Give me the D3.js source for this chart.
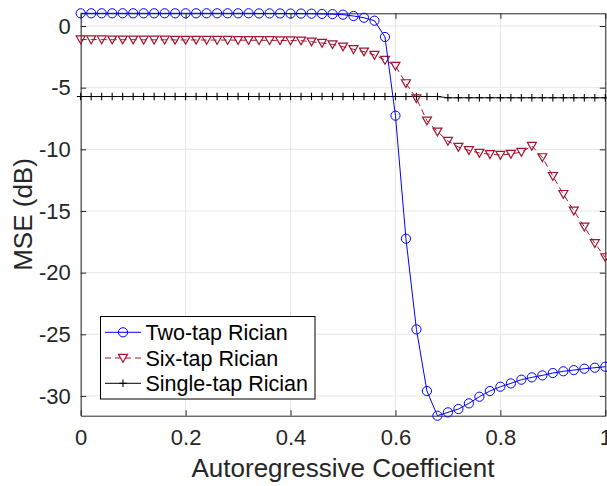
<!DOCTYPE html>
<html><head><meta charset="utf-8">
<script src="https://cdn.jsdelivr.net/npm/d3@7"></script>
<style>body{margin:0;background:#fff}svg{display:block;font-family:"Liberation Sans",Arial,sans-serif}</style>
</head><body><svg id="c" width="607" height="486"></svg>
<script>
const xVals = [0,0.02,0.04,0.06,0.08,0.10,0.12,0.14,0.16,0.18,0.20,0.22,0.24,0.26,0.28,0.30,0.32,0.34,0.36,0.38,0.40,0.42,0.44,0.46,0.48,0.50,0.52,0.54,0.56,0.58,0.60,0.62,0.64,0.66,0.68,0.70,0.72,0.74,0.76,0.78,0.80,0.82,0.84,0.86,0.88,0.90,0.92,0.94,0.96,0.98,1.00];
const twoTap = [1.03,1.03,1.03,1.03,1.03,1.03,1.03,1.03,1.03,1.03,1.03,1.03,1.03,1.03,1.03,1.03,1.03,
  1.02,1.02,1.02,1.01,1.01,1.0,0.98,0.96,0.92,0.81,0.67,0.43,
  -0.89,-7.27,-17.25,-24.6,-29.6,-31.6,-31.33,-31.06,-30.6,-30.06,-29.6,-29.25,-28.98,-28.68,-28.49,-28.33,-28.14,-28.0,-27.9,-27.79,-27.71,-27.63];
const sixTap = [-1.10,-1.10,-1.10,-1.11,-1.11,-1.11,-1.12,-1.12,-1.12,-1.13,-1.13,-1.13,-1.14,-1.14,-1.14,-1.15,-1.15,-1.16,-1.16,-1.17,-1.18,-1.19,
  -1.27,-1.38,-1.49,-1.68,-1.89,-2.08,-2.35,-2.76,-3.24,-4.65,-5.87,-7.68,-8.57,-9.33,-9.81,-10.08,-10.3,-10.4,-10.46,-10.38,-10.22,-9.73,-10.65,-12.17,-13.63,-14.98,-16.28,-17.62,-18.76];
const singleTap = [-5.72,-5.72,-5.72,-5.72,-5.72,-5.72,-5.72,-5.72,-5.72,-5.72,-5.72,-5.72,-5.72,-5.72,-5.72,-5.72,-5.72,-5.72,-5.72,-5.72,-5.72,-5.72,-5.72,-5.72,-5.72,-5.72,-5.72,-5.72,-5.72,-5.72,-5.72,-5.72,-5.72,-5.72,-5.72,
  -5.82,-5.82,-5.82,-5.82,-5.82,-5.82,-5.82,-5.82,-5.82,-5.82,-5.82,-5.82,-5.82,-5.82,-5.82,-5.82];
const xTicks = [0,0.2,0.4,0.6,0.8,1];
const xTickLabels = ["0","0.2","0.4","0.6","0.8","1"];
const yTicks = [-30,-25,-20,-15,-10,-5,0];
const yTickLabels = ["-30","-25","-20","-15","-10","-5","0"];
const seriesNames = ["Two-tap Rician","Six-tap Rician","Single-tap Rician"];
const xDomain = [0,1];
const yDomain = [-31.6,1.03];

const L=80.7, R=605.3, T=13.3, B=415.7;
const svg = d3.select("#c");
const x = d3.scaleLinear().domain(xDomain).range([L,R]);
const y = d3.scaleLinear().domain(yDomain).range([B,T]);
const axisCol="#262626", gridCol="#e6e6e6";

// grid
const g = svg.append("g");
g.selectAll(".gx").data(xTicks).join("line").attr("x1",d=>x(d)).attr("x2",d=>x(d)).attr("y1",T).attr("y2",B).attr("stroke",gridCol).attr("stroke-width",1);
g.selectAll(".gy").data(yTicks).join("line").attr("y1",d=>y(d)).attr("y2",d=>y(d)).attr("x1",L).attr("x2",R).attr("stroke",gridCol).attr("stroke-width",1);

const tk = 5.5;
const fmtX = d=>xTickLabels[xTicks.indexOf(d)];
const fmtY = d=>yTickLabels[yTicks.indexOf(d)];
function styleAxis(sel){ sel.select(".domain").attr("stroke",axisCol).attr("stroke-width",1);
  sel.selectAll(".tick line").attr("stroke",axisCol).attr("stroke-width",1);
  sel.selectAll(".tick text").attr("fill",axisCol).style("font-size","22px").style("font-family","Liberation Sans, Arial, sans-serif"); }
svg.append("g").attr("transform",`translate(0,${B})`).call(d3.axisBottom(x).tickValues(xTicks).tickFormat(fmtX).tickSizeInner(-tk).tickSizeOuter(0).tickPadding(14)).call(styleAxis);
svg.append("g").attr("transform",`translate(0,${T})`).call(d3.axisTop(x).tickValues(xTicks).tickFormat("").tickSizeInner(-tk).tickSizeOuter(0)).call(styleAxis);
svg.append("g").attr("transform",`translate(${L},0)`).call(d3.axisLeft(y).tickValues(yTicks).tickFormat(fmtY).tickSizeInner(-tk).tickSizeOuter(0).tickPadding(10)).call(styleAxis);
svg.append("g").attr("transform",`translate(${R},0)`).call(d3.axisRight(y).tickValues(yTicks).tickFormat("").tickSizeInner(-tk).tickSizeOuter(0)).call(styleAxis);

// labels
svg.append("text").attr("x",(L+R)/2).attr("y",477).attr("text-anchor","middle").attr("fill",axisCol).style("font-size","26px").text("Autoregressive Coefficient");
svg.append("text").attr("transform",`translate(32,${(T+B)/2}) rotate(-90)`).attr("text-anchor","middle").attr("fill",axisCol).style("font-size","26px").text("MSE (dB)");

// clip
svg.append("clipPath").attr("id","cp").append("rect").attr("x",L-6).attr("y",T-6).attr("width",R-L+12).attr("height",B-T+12);
const plot = svg.append("g").attr("clip-path","url(#cp)");
const line = d3.line().x(d=>x(d[0])).y(d=>y(d[1]));
const triPath = "M-4.5,-3.6L4.5,-3.6L0,4.2Z";
const circ = (sel,col)=>sel.append("circle").attr("r",4.6).attr("fill","none").attr("stroke",col).attr("stroke-width",1);
const tri = (sel,col)=>sel.append("path").attr("d",triPath).attr("fill","none").attr("stroke",col).attr("stroke-width",1.2);
const plus = (sel,col)=>sel.append("path").attr("d","M-3.8,0H3.8M0,-3.8V3.8").attr("fill","none").attr("stroke",col).attr("stroke-width",1.1);

const series = [
  {vals:singleTap,col:"#000000",dash:null,mk:plus},
  {vals:sixTap,col:"#a2142f",dash:"6,4",mk:tri},
  {vals:twoTap,col:"#0000ff",dash:null,mk:circ}
];
series.forEach(s=>{
  const pts = xVals.map((xv,i)=>[xv,s.vals[i]]);
  plot.append("path").datum(pts).attr("d",line).attr("fill","none").attr("stroke",s.col).attr("stroke-width",1).attr("stroke-dasharray",s.dash);
  plot.selectAll(null).data(pts).join("g").attr("transform",d=>`translate(${x(d[0])},${y(d[1])})`).each(function(){ s.mk(d3.select(this),s.col); });
});

// box top/right already by axes; legend
const lg = svg.append("g");
lg.append("rect").attr("x",100.5).attr("y",316.5).attr("width",214.5).attr("height",82.5).attr("fill","#fff").attr("stroke","#000").attr("stroke-width",1);
const legItems = [
  {name:seriesNames[0],col:"#0000ff",dash:null,mk:circ,y:332.3},
  {name:seriesNames[1],col:"#a2142f",dash:"6,4",mk:tri,y:358},
  {name:seriesNames[2],col:"#000000",dash:null,mk:plus,y:383.3}
];
legItems.forEach(it=>{
  lg.append("line").attr("x1",105).attr("x2",141).attr("y1",it.y).attr("y2",it.y).attr("stroke",it.col).attr("stroke-width",1).attr("stroke-dasharray",it.dash);
  const m = lg.append("g").attr("transform",`translate(123,${it.y})`); it.mk(m,it.col);
  lg.append("text").attr("x",145.5).attr("y",it.y).attr("dy","0.36em").attr("fill","#000").style("font-size","21.5px").text(it.name);
});
</script></body></html>
